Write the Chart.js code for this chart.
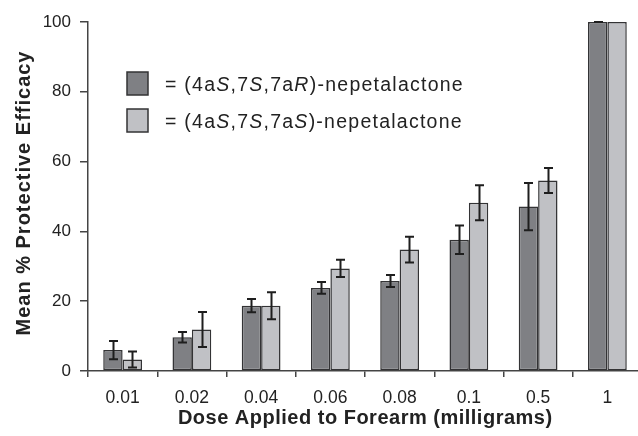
<!DOCTYPE html>
<html>
<head>
<meta charset="utf-8">
<script src="https://cdn.jsdelivr.net/npm/chart.js@4.4.1/dist/chart.umd.min.js"></script>
<style>
  html, body { margin: 0; padding: 0; background: #fff; overflow: hidden; }
  #wrap { width: 650px; height: 436px; }
</style>
</head>
<body>
<div id="wrap"><canvas id="chart" width="650" height="436"></canvas></div>
<script>
// Doses (mg) applied to the forearm
const doses = ['0.01', '0.02', '0.04', '0.06', '0.08', '0.1', '0.5', '1'];

// Mean % protective efficacy and error (±) for each isomer
const isomerRName = '= (4a*S*,7*S*,7a*R*)-nepetalactone';
const isomerRMean = [6.0, 9.7, 18.7, 23.8, 25.8, 37.6, 47.1, 100];
const isomerRErr  = [2.6, 1.5, 1.9, 1.7, 1.7, 4.1, 6.8, 0];

const isomerSName = '= (4a*S*,7*S*,7a*S*)-nepetalactone';
const isomerSMean = [3.3, 11.9, 18.7, 29.4, 34.8, 48.2, 54.6, 100];
const isomerSErr  = [2.3, 5.0, 3.9, 2.5, 3.7, 5.0, 3.6, null];

const yTicks = [0, 20, 40, 60, 80, 100];

const xTitle = 'Dose Applied to Forearm (milligrams)';
const yTitle = 'Mean % Protective Efficacy';

const FONT = "'Liberation Sans', Arial, sans-serif";
const AXIS_COLOR = '#444';
const TEXT_COLOR = '#222';

// Draw a run of text segments (odd segments italic) starting at x
function drawRich(ctx, parts, x, y, size, weight, spacing) {
  ctx.letterSpacing = spacing + 'px';
  parts.forEach((p, k) => {
    ctx.font = (k % 2 ? 'italic ' : '') + weight + ' ' + size + 'px ' + FONT;
    ctx.fillText(p, x, y);
    x += ctx.measureText(p).width;
  });
  ctx.letterSpacing = '0px';
}

function textWidth(ctx, text, font, spacing) {
  ctx.font = font;
  ctx.letterSpacing = spacing + 'px';
  const w = ctx.measureText(text).width - spacing;
  ctx.letterSpacing = '0px';
  return w;
}

// Whiskers drawn from each dataset's error array through the chart scales
const errorBars = {
  id: 'errorBars',
  afterDatasetsDraw(chart) {
    const ctx = chart.ctx;
    const y = chart.scales.y;
    ctx.save();
    ctx.strokeStyle = '#1e1e1e';
    ctx.lineWidth = 2;
    chart.data.datasets.forEach((ds, di) => {
      const meta = chart.getDatasetMeta(di);
      meta.data.forEach((bar, i) => {
        const e = ds.errors[i];
        if (e === null || e === undefined) return;
        const v = ds.data[i];
        const top = y.getPixelForValue(v + e);
        const bot = y.getPixelForValue(v - e);
        const cx = Math.round(bar.x) + 0.5;
        const cap = 4.5;
        ctx.beginPath();
        ctx.moveTo(cx, top); ctx.lineTo(cx, bot);
        ctx.moveTo(cx - cap, top); ctx.lineTo(cx + cap, top);
        ctx.moveTo(cx - cap, bot); ctx.lineTo(cx + cap, bot);
        ctx.stroke();
      });
    });
    ctx.restore();
  }
};

// Axis titles, set a little wider than the default tracking
const axisTitles = {
  id: 'axisTitles',
  afterDraw(chart) {
    const ctx = chart.ctx;
    const a = chart.chartArea;
    ctx.save();
    ctx.fillStyle = TEXT_COLOR;
    ctx.textBaseline = 'alphabetic';
    ctx.textAlign = 'left';

    const xf = 'bold 20px ' + FONT;
    const xs = 0.5;
    const xw = textWidth(ctx, xTitle, xf, xs);
    ctx.font = xf;
    ctx.letterSpacing = xs + 'px';
    ctx.fillText(xTitle, (a.left + a.right) / 2 - xw / 2, 423.5);

    const yf = 'bold 20px ' + FONT;
    const ys = 1.0;
    const yw = textWidth(ctx, yTitle, yf, ys);
    ctx.translate(29.5, (a.top + a.bottom) / 2 - 3);
    ctx.rotate(-Math.PI / 2);
    ctx.font = yf;
    ctx.letterSpacing = ys + 'px';
    ctx.fillText(yTitle, -yw / 2, 0);
    ctx.restore();
  }
};

// Legend with italic stereodescriptors (text between asterisks is italic)
const richLegend = {
  id: 'richLegend',
  afterDraw(chart) {
    const ctx = chart.ctx;
    const x0 = 127, boxW = 21, boxH = 23, textX = 165;
    const rows = [72, 109];
    ctx.save();
    chart.data.datasets.forEach((ds, di) => {
      const top = rows[di];
      ctx.fillStyle = ds.backgroundColor;
      ctx.fillRect(x0, top, boxW, boxH);
      ctx.strokeStyle = ds.borderColor;
      ctx.lineWidth = 1.5;
      ctx.strokeRect(x0, top, boxW, boxH);
      ctx.fillStyle = TEXT_COLOR;
      ctx.textBaseline = 'alphabetic';
      ctx.textAlign = 'left';
      drawRich(ctx, ds.label.split('*'), textX, top + boxH / 2 + 7, 19.5, 'normal', 1.25);
    });
    ctx.restore();
  }
};

const PLOT_LEFT = 88, PLOT_TOP = 22, PLOT_BOTTOM = 371, PLOT_RIGHT = 642;

new Chart(document.getElementById('chart'), {
  type: 'bar',
  data: {
    labels: doses,
    datasets: [
      {
        label: isomerRName,
        data: isomerRMean,
        errors: isomerRErr,
        backgroundColor: '#7f8084',
        borderColor: '#333335',
        borderWidth: 1.5,
        borderSkipped: false
      },
      {
        label: isomerSName,
        data: isomerSMean,
        errors: isomerSErr,
        backgroundColor: '#c0c1c5',
        borderColor: '#333335',
        borderWidth: 1.5,
        borderSkipped: false
      }
    ]
  },
  options: {
    responsive: false,
    devicePixelRatio: 1,
    animation: false,
    layout: { padding: { left: 0, top: PLOT_TOP, right: 650 - PLOT_RIGHT, bottom: 0 } },
    datasets: { bar: { categoryPercentage: 0.56, barPercentage: 1.0 } },
    plugins: {
      legend: { display: false },
      tooltip: { enabled: false }
    },
    scales: {
      x: {
        offset: true,
        afterFit(scale) { scale.height = 436 - PLOT_BOTTOM; },
        grid: {
          display: true,
          offset: true,
          drawOnChartArea: false,
          drawTicks: true,
          tickLength: 6,
          color: AXIS_COLOR,
          lineWidth: 1.5
        },
        border: { display: true, color: AXIS_COLOR, width: 1.5 },
        ticks: {
          color: TEXT_COLOR,
          font: { family: FONT, size: 17.5 },
          padding: 11,
          maxRotation: 0
        }
      },
      y: {
        min: 0,
        max: 100,
        afterFit(scale) { scale.width = PLOT_LEFT; },
        afterBuildTicks(scale) { scale.ticks = yTicks.map(v => ({ value: v })); },
        grid: {
          display: true,
          drawOnChartArea: false,
          drawTicks: true,
          tickLength: 8,
          color: AXIS_COLOR,
          lineWidth: 1.5
        },
        border: { display: true, color: AXIS_COLOR, width: 1.5 },
        ticks: {
          color: TEXT_COLOR,
          font: { family: FONT, size: 17 },
          padding: 9
        }
      }
    }
  },
  plugins: [errorBars, axisTitles, richLegend]
});
</script>
</body>
</html>
